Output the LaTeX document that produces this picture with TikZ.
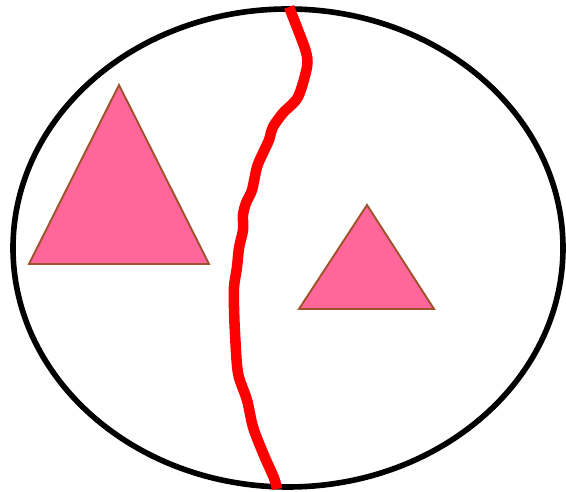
\documentclass[tikz,border=0pt]{standalone}
\usepackage{tikz}
\definecolor{tri}{HTML}{FF6699}
\definecolor{triedge}{HTML}{A0522D}
\tikzset{
  region/.style={draw=black, line width=3.2pt},
  cut/.style={draw=red, line width=6pt, line join=round},
  tribox/.style={draw=triedge, fill=tri, line width=1.1pt, line join=miter},
}
\begin{document}
\begin{tikzpicture}[x=0.02cm, y=-0.02cm]
  \useasboundingbox (0,0) rectangle (566,492);
  % the whole region
  \draw[region] (288,248) ellipse [x radius=275, y radius=239];
  % two pieces
  \draw[tribox] (119,85) -- (209,264) -- (29,264) -- cycle;
  \draw[tribox] (367,205) -- (434,309) -- (299,309) -- cycle;
  % the dividing line
  \draw[cut] plot[smooth, tension=0.5] coordinates {
    (289,7) (298,30) (306,52) (307,67) (298,97) (283,113) (273,127)
    (269,140) (263,153) (257,167) (252,190) (246,203) (243,215)
    (243,230) (239,248) (237,267) (234,287) (234,307) (235,333)
    (238,373) (247,400) (253,427) (263,453) (274,478) (277,489)};
\end{tikzpicture}
\end{document}
